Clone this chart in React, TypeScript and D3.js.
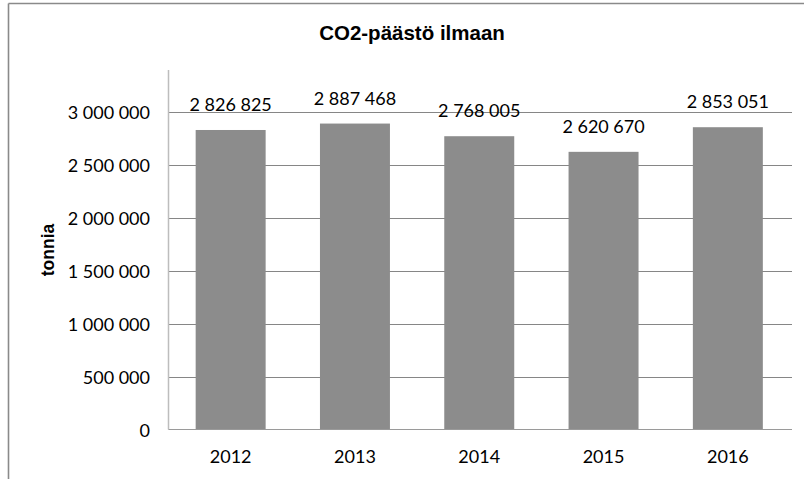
import React from "react";
import * as d3 from "d3";

const years = ["2012", "2013", "2014", "2015", "2016"];
const emissions = [2826825, 2887468, 2768005, 2620670, 2853051];
const yTicks = [0, 500000, 1000000, 1500000, 2000000, 2500000, 3000000];
const title = "CO2-päästö ilmaan";
const yLabel = "tonnia";

const W = 804;
const H = 479;
const plot = { left: 168.5, right: 790, top: 70, bottom: 429.5 };

const fmt = (v: number) => {
  const s = Math.round(v).toString();
  return s.replace(/\B(?=(\d{3})+(?!\d))/g, " ");
};

export default function App() {
  const x = d3
    .scaleBand<string>()
    .domain(years)
    .range([plot.left, plot.right])
    .paddingInner(0.437)
    .paddingOuter(0.2185);
  const y = d3
    .scaleLinear()
    .domain([0, 3393000])
    .range([plot.bottom, plot.top]);

  const numFont = "Lato, 'Open Sans', sans-serif";
  const boldFont = "'Liberation Sans', Arial, sans-serif";

  return (
    <svg
      width={W}
      height={H}
      style={{ position: "absolute", left: 0, top: 0, background: "#fff" }}
    >
      <rect x={0} y={0} width={W} height={H} fill="#fff" />
      {/* chart frame (top and left edges visible) */}
      <line x1={8.5} y1={3.5} x2={W} y2={3.5} stroke="#8a8a8a" strokeWidth={1.6} />
      <line x1={8.5} y1={3.5} x2={8.5} y2={H} stroke="#8a8a8a" strokeWidth={1.6} />

      <text
        x={412}
        y={39.5}
        textAnchor="middle"
        fontFamily={boldFont}
        fontWeight="bold"
        fontSize={20.5}
        fill="#000"
      >
        {title}
      </text>

      {/* gridlines */}
      {yTicks.slice(1).map((t) => (
        <line
          key={t}
          x1={plot.left}
          x2={792}
          y1={Math.round(y(t)) + 0.5}
          y2={Math.round(y(t)) + 0.5}
          stroke="#868686"
          strokeWidth={1}
        />
      ))}

      {/* bars */}
      {years.map((yr, i) => (
        <rect
          key={yr}
          x={x(yr)}
          y={y(emissions[i])}
          width={x.bandwidth()}
          height={y(0) - y(emissions[i])}
          fill="#8c8c8c"
        />
      ))}

      {/* axes */}
      <line x1={plot.left} x2={plot.left} y1={plot.top} y2={plot.bottom} stroke="#bdbdbd" strokeWidth={1.5} />
      <line x1={plot.left} x2={792} y1={plot.bottom} y2={plot.bottom} stroke="#9a9a9a" strokeWidth={1.2} />

      {/* y tick labels */}
      {yTicks.map((t) => (
        <text
          key={t}
          x={150}
          y={y(t)}
          textAnchor="end"
          dominantBaseline="central"
          fontFamily={numFont}
          fontSize={18}
          fill="#000"
        >
          {fmt(t)}
        </text>
      ))}

      {/* x labels */}
      {years.map((yr) => (
        <text
          key={yr}
          x={(x(yr) as number) + x.bandwidth() / 2}
          y={463}
          textAnchor="middle"
          fontFamily={numFont}
          fontSize={18}
          fill="#000"
        >
          {yr}
        </text>
      ))}

      {/* value labels */}
      {years.map((yr, i) => (
        <text
          key={yr}
          x={(x(yr) as number) + x.bandwidth() / 2}
          y={y(emissions[i]) - 19}
          textAnchor="middle"
          fontFamily={numFont}
          fontSize={18}
          fill="#000"
        >
          {fmt(emissions[i])}
        </text>
      ))}

      <text
        transform={`translate(48,250) rotate(-90)`}
        textAnchor="middle"
        dominantBaseline="central"
        fontFamily={boldFont}
        fontWeight="bold"
        fontSize={17.5}
        fill="#000"
      >
        {yLabel}
      </text>
    </svg>
  );
}
